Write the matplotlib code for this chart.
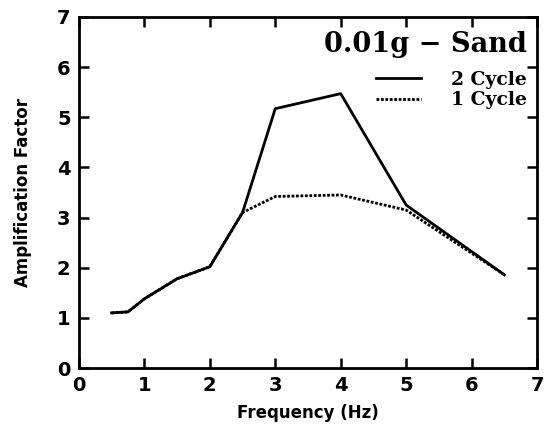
import matplotlib
matplotlib.use('Agg')
import matplotlib.pyplot as plt

freq = [0.5, 0.75, 1.0, 1.5, 2.0, 2.5, 3.0, 4.0, 5.0, 6.5]
amp_2cycle = [1.1, 1.12, 1.38, 1.78, 2.02, 3.1, 5.17, 5.47, 3.25, 1.86]
amp_1cycle = [1.1, 1.12, 1.38, 1.78, 2.02, 3.1, 3.42, 3.45, 3.15, 1.86]

fig = plt.figure(figsize=(5.48, 4.44), dpi=100)
ax = fig.add_axes([0.144, 0.171, 0.836, 0.791])

ax.plot(freq, amp_1cycle, color='black', lw=2.0, linestyle=(0, (1, 0.6)), label='1 Cycle')
ax.plot(freq, amp_2cycle, color='black', lw=2.0, label='2 Cycle')

ax.set_xlim(0, 7)
ax.set_ylim(0, 7)
ax.set_xticks(range(8))
ax.set_yticks(range(8))
ax.tick_params(direction='in', length=7, width=1.8, top=True, right=True,
               labelsize=14, pad=6)
for lbl in ax.get_xticklabels() + ax.get_yticklabels():
    lbl.set_fontweight('bold')
for s in ax.spines.values():
    s.set_linewidth(2)

ax.set_xlabel('Frequency (Hz)', fontsize=12, fontweight='bold', labelpad=6)
ax.set_ylabel('Amplification Factor', fontsize=12, fontweight='bold', labelpad=18)

ax.text(0.978, 0.92, '0.01g \u2212 Sand', transform=ax.transAxes, ha='right', va='center',
        fontsize=19.5, fontweight='bold', family='DejaVu Serif')

h, l = ax.get_legend_handles_labels()
leg = ax.legend(h[::-1], l[::-1], loc='upper right', bbox_to_anchor=(1.015, 0.895),
                frameon=False, handlelength=2.4, handletextpad=1.6, labelspacing=0.15,
                prop={'family': 'DejaVu Serif', 'weight': 'bold', 'size': 13.5})

fig.savefig('out.png', dpi=100)
